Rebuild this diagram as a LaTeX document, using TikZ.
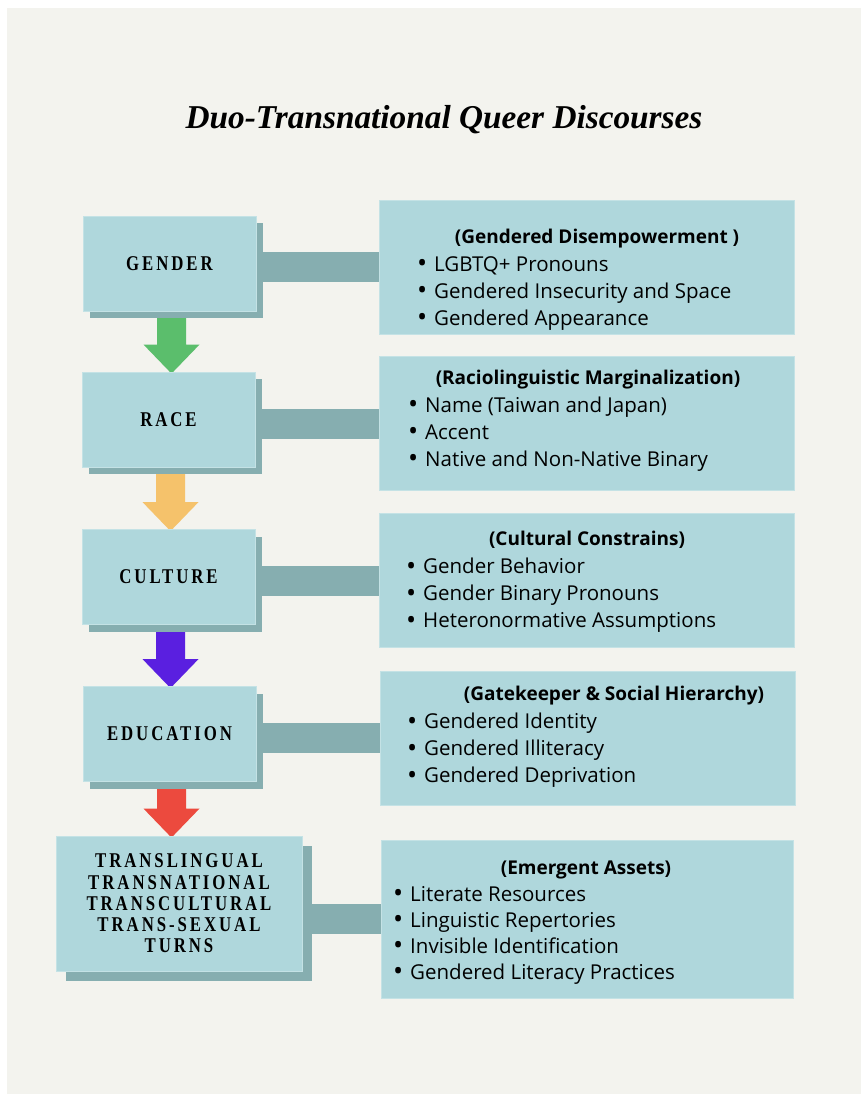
\documentclass[tikz,border=0pt]{standalone}
\usepackage{fontspec}
\setmainfont{Liberation Serif}
\newfontfamily\listfont{Open Sans}
\newfontfamily\stagefont{Liberation Serif Bold}[FakeStretch=0.8,LetterSpace=14]
\usepackage{tikz}
\usetikzlibrary{positioning}
\usetikzlibrary{calc}
\usetikzlibrary{shadows}
\definecolor{papercol}{HTML}{F3F3EE}
\definecolor{boxcol}{HTML}{AFD7DC}
\definecolor{boxedge}{HTML}{C4E2E5}
\definecolor{shadecol}{HTML}{86AEB0}
\definecolor{arrgreen}{HTML}{5BBE6C}
\definecolor{arrorange}{HTML}{F5C26B}
\definecolor{arrpurple}{HTML}{5A1FE0}
\definecolor{arrred}{HTML}{EC4A3E}
\pgfdeclarelayer{paper}
\pgfdeclarelayer{links}
\pgfsetlayers{paper,links,main}
\tikzstyle{stage}=[rectangle, fill=boxcol, draw=boxedge, line width=0.8pt, minimum width=173pt, minimum height=95pt, align=center, font=\stagefont\fontsize{21}{21.3}\selectfont]
\tikzstyle{lift}=[general shadow={fill=shadecol, shadow xshift=7pt, shadow yshift=-7pt}]
\tikzstyle{notes}=[rectangle, fill=boxcol, draw=boxedge, line width=0.8pt, minimum width=415pt, minimum height=134pt]
\tikzstyle{heading}=[inner sep=0pt, text height=13.5pt, text depth=0pt, font=\listfont\bfseries\fontsize{19}{23}\selectfont]
\tikzstyle{item}=[anchor=west, inner sep=0pt, text height=14pt, text depth=0pt, font=\listfont\fontsize{20.5}{23}\selectfont, execute at begin node={\llap{\raisebox{-1.8pt}{\fontsize{27}{27}\selectfont\textbullet}\hspace{7pt}}}]
\tikzstyle{bar}=[draw=shadecol, line width=30pt]
\tikzset{>=latex}
% block arrow from one stage down to the next
\newcommand{\flowarrow}[3]{%
  \coordinate (tip) at (#1.south |- #2.north);
  \fill[#3] ($(#1.south)+(-12.5,0)$) -- ($(#1.south)+(16.5,0)$)
    -- ($(tip)+(16.5,-27)$) -- ($(tip)+(30,-27)$) -- ($(tip)+(2,2)$)
    -- ($(tip)+(-26,-27)$) -- ($(tip)+(-12.5,-27)$) -- cycle;}

\begin{document}
\begin{tikzpicture}[x=1pt, y=-1pt]
        \useasboundingbox (0,0) rectangle (861,1094);
        \begin{pgfonlayer}{paper}
          \fill[white] (0,0) rectangle (861,1094);
          \fill[papercol] (7,8) rectangle (861,1094);
        \end{pgfonlayer}

        % Title
        \node[inner sep=0pt, text height=22pt, text depth=0pt, font=\bfseries\itshape\fontsize{33.3}{40}\selectfont]
          (title) at (444,118) {Duo-Transnational Queer Discourses};

        % Stages
        \node[stage, lift] (gender) at (169.5,263.5) {GENDER};
        \node[stage, lift] (race) at (168.5,419.5) {RACE};
        \node[stage, lift] (culture) at (168.5,577) {CULTURE};
        \node[stage, lift] (education) at (169.5,734) {EDUCATION};
        \node[stage, minimum width=246pt, minimum height=135pt,
          general shadow={fill=shadecol, shadow xshift=10pt, shadow yshift=-10pt}]
          (turns) at (179,903.5) {TRANSLINGUAL\\TRANSNATIONAL\\TRANSCULTURAL\\TRANS-SEXUAL\\TURNS};

        % Notes
        \node[notes] (gnotes) at (586.5,267) {};
        \node[notes] (rnotes) at (586.5,423.5) {};
        \node[notes] (cnotes) at (586.5,580.5) {};
        \node[notes] (enotes) at (587.5,738) {};
        \node[notes, minimum width=412pt, minimum height=158pt] (tnotes) at (587,919) {};

        \node[heading] (ghead) at (597,237) {(Gendered Disempowerment )};
        \foreach \t [count=\i] in {LGBTQ+ Pronouns, Gendered Insecurity and Space, Gendered Appearance}
          \node[item] (gitem\i) at (434,237+27*\i) {\t};

        \node[heading] (rhead) at (588,378) {(Raciolinguistic Marginalization)};
        \foreach \t [count=\i] in {{Name (Taiwan and Japan)}, Accent, Native and Non-Native Binary}
          \node[item] (ritem\i) at (425,378+27*\i) {\t};

        \node[heading] (chead) at (587,539) {(Cultural Constrains)};
        \foreach \t [count=\i] in {Gender Behavior, Gender Binary Pronouns, Heteronormative Assumptions}
          \node[item] (citem\i) at (423,539+27.3*\i) {\t};

        \node[heading] (ehead) at (614,694) {(Gatekeeper \& Social Hierarchy)};
        \foreach \t [count=\i] in {Gendered Identity, Gendered Illiteracy, Gendered Deprivation}
          \node[item] (eitem\i) at (424,694+27.3*\i) {\t};

        \node[heading] (thead) at (586,868) {(Emergent Assets)};
        \foreach \t [count=\i] in {Literate Resources, Linguistic Repertories, Invisible Identification, Gendered Literacy Practices}
          \node[item] (titem\i) at (410,868+26*\i) {\t};

        % Links
        \begin{pgfonlayer}{links}
          \foreach \a/\b in {gender/gnotes, race/rnotes, culture/cnotes, education/enotes, turns/tnotes}
            \draw[bar] (\a.center |- \b.west) -- (\b.west);
          \flowarrow{gender}{race}{arrgreen}
          \flowarrow{race}{culture}{arrorange}
          \flowarrow{culture}{education}{arrpurple}
          \flowarrow{education}{turns}{arrred}
        \end{pgfonlayer}
      \end{tikzpicture}
\end{document}
